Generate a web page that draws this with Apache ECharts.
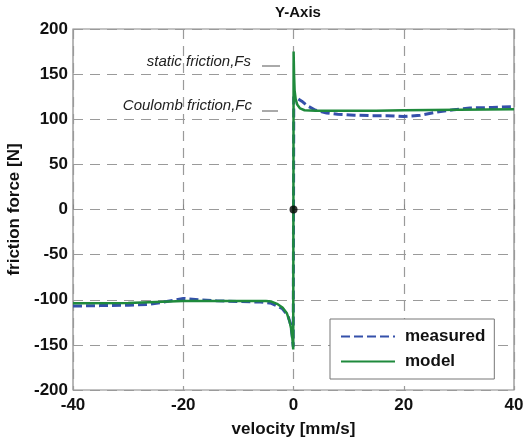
<!DOCTYPE html>
<html>
<head>
<meta charset="utf-8">
<script src="https://cdn.jsdelivr.net/npm/echarts@6/dist/echarts.min.js"></script>
<style>
html, body { margin: 0; padding: 0; background: #fff; }
#main { width: 523px; height: 443px; }
</style>
</head>
<body>
<div id="main"></div>
<script>
// velocity [mm/s] / friction force [N]
var measuredV = [-40, -35, -30, -26, -23, -20, -17, -14, -10, -6, -4, -3, -2, -1, -0.5, -0.2, -0.05,
                 0.05, 0.5, 1, 1.5, 2.5, 4, 6, 8, 11, 14, 17, 20, 23, 26, 29, 32, 36, 40];
var measuredF = [-107, -106.5, -106, -105, -102, -98.5, -100, -101, -102, -102.5, -104, -107, -110, -118, -128, -142, -152,
                 125, 124, 122, 120, 115, 110, 107, 105.5, 104.5, 104, 104, 103, 104.5, 108, 110.5, 112.5, 113, 114];

var modelV = [-40, -30, -25, -20, -10, -5, -4, -3, -2, -1.2, -0.7, -0.4, -0.2, -0.05,
              0.02, 0.1, 0.2, 0.4, 0.7, 1.2, 2, 4, 10, 15, 20, 30, 40];
var modelF = [-104, -103.5, -102.5, -101.5, -101.5, -101.5, -102, -104.5, -108.5, -115, -124, -133, -143, -155,
              175, 150, 132, 122, 116, 112, 110, 109.5, 109.5, 109.5, 110, 110.5, 111];

var xTicks = [-40, 40, 20];   // min, max, step
var yTicks = [-200, 200, 50];

function pairs(xs, ys) {
	var out = [];
	for (var i = 0; i < xs.length; i++) {
		out.push([xs[i], ys[i]]);
	}
	return out;
}

var font = '"Liberation Sans", Arial, sans-serif';
var gridLine = { show: true, lineStyle: { color: '#9a9a9a', type: [10, 7], width: 1.2 } };

var option = {
	animation: false,
	backgroundColor: '#fff',
	title: {
		text: 'Y-Axis',
		left: 293,
		top: 0,
		textAlign: 'center',
		textStyle: { fontFamily: font, fontSize: 15, fontWeight: 'bold', color: '#111' }
	},
	grid: {
		left: 73, right: 9, top: 29, bottom: 53,
		outerBoundsMode: 'none',
		containLabel: false,
		show: true, borderColor: '#888', borderWidth: 1.2
	},
	legend: {
		data: ['measured', 'model'],
		orient: 'vertical',
		left: 330,
		top: 319,
		padding: [9, 9, 9, 10],
		itemGap: 8,
		itemWidth: 54,
		itemHeight: 14,
		itemStyle: { opacity: 0 },
		backgroundColor: '#fff',
		borderColor: '#777',
		borderWidth: 1,
		textStyle: { fontFamily: font, fontSize: 17, fontWeight: 'bold', color: '#111', padding: [0, 0, 0, 5] }
	},
	xAxis: {
		type: 'value',
		min: xTicks[0], max: xTicks[1], interval: xTicks[2],
		name: 'velocity [mm/s]',
		nameLocation: 'middle',
		nameGap: 31,
		nameTextStyle: { fontFamily: font, fontSize: 17, fontWeight: 'bold', color: '#111' },
		axisLine: { show: false },
		axisTick: { show: true, inside: true, length: 5, lineStyle: { color: '#888' } },
		axisLabel: { fontFamily: font, fontSize: 17, fontWeight: 'bold', color: '#111', margin: 7 },
		splitLine: gridLine
	},
	yAxis: {
		type: 'value',
		min: yTicks[0], max: yTicks[1], interval: yTicks[2],
		name: 'friction force [N]',
		nameLocation: 'middle',
		nameGap: 46,
		nameTextStyle: { fontFamily: font, fontSize: 17, fontWeight: 'bold', color: '#111' },
		axisLine: { show: false },
		axisTick: { show: true, inside: true, length: 5, lineStyle: { color: '#888' } },
		axisLabel: { fontFamily: font, fontSize: 17, fontWeight: 'bold', color: '#111', margin: 5 },
		splitLine: gridLine
	},
	graphic: [
		{ type: 'text', x: 251, y: 62,
		  style: { text: 'static friction,Fs', font: 'italic 15px ' + font, fill: '#222', textAlign: 'right', textVerticalAlign: 'middle' } },
		{ type: 'line', shape: { x1: 262, y1: 66, x2: 280, y2: 66 }, style: { stroke: '#555', lineWidth: 1 } },
		{ type: 'text', x: 252, y: 106,
		  style: { text: 'Coulomb friction,Fc', font: 'italic 15px ' + font, fill: '#222', textAlign: 'right', textVerticalAlign: 'middle' } },
		{ type: 'line', shape: { x1: 262, y1: 111, x2: 278, y2: 111 }, style: { stroke: '#555', lineWidth: 1 } }
	],
	series: [{
		name: 'measured',
		type: 'line',
		symbol: 'none',
		color: '#3550aa',
		lineStyle: { color: '#3550aa', width: 3, type: [9, 4] },
		data: pairs(measuredV, measuredF)
	}, {
		name: 'model',
		type: 'line',
		symbol: 'none',
		color: '#1f8a3c',
		lineStyle: { color: '#1f8a3c', width: 2.5 },
		data: pairs(modelV, modelF)
	}, {
		name: 'origin',
		type: 'scatter',
		symbolSize: 8,
		itemStyle: { color: '#000' },
		z: 5,
		data: [[0, 0]]
	}]
};

var myChart = echarts.init(document.getElementById('main'));
myChart.setOption(option);
</script>
</body>
</html>
